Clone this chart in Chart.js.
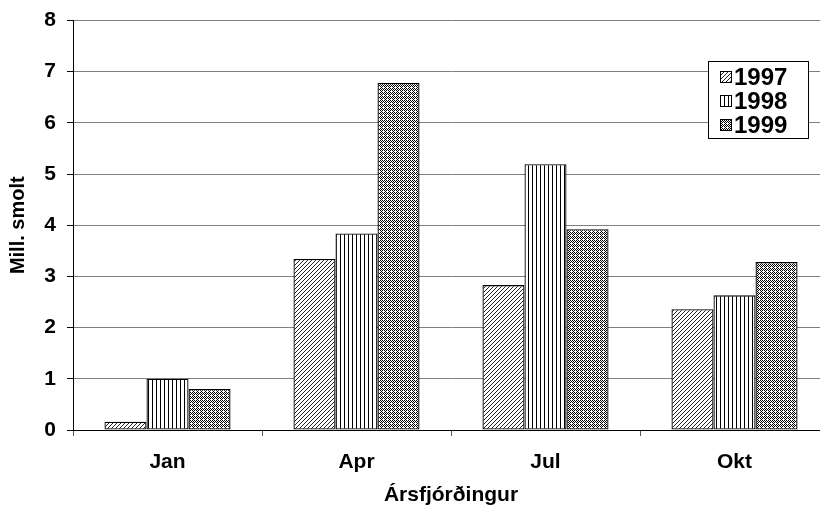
<!DOCTYPE html>
<html>
<head>
<meta charset="utf-8">
<script src="https://cdn.jsdelivr.net/npm/chart.js@4.4.1/dist/chart.umd.min.js"></script>
<style>
    html, body { margin: 0; padding: 0; background: #fff; overflow: hidden; }
    #wrap { width: 830px; height: 508px; position: relative; }
</style>
</head>
<body>
<div id="wrap"><canvas id="smoltChart" width="830" height="508"></canvas></div>
<script>
// Data
const quarters = ['Jan', 'Apr', 'Jul', 'Okt'];
const years = ['1997', '1998', '1999'];
const values1997 = [0.16, 3.34, 2.83, 2.36];
const values1998 = [1.0, 3.84, 5.19, 2.63];
const values1999 = [0.8, 6.78, 3.92, 3.28];
const yTicks = [0, 1, 2, 3, 4, 5, 6, 7, 8];

const FONT = "'Liberation Sans', Arial, sans-serif";

/**
 * Build fill patterns
 */
function makePattern(kind) {
    const c = document.createElement('canvas');
    const g = c.getContext('2d');
    c.width = 4; c.height = 4;
    g.fillStyle = '#fff';
    g.fillRect(0, 0, 4, 4);
    if (kind === 'diag') {
        g.fillStyle = '#222';
        for (let i = 0; i < 4; i++) g.fillRect(3 - i, i, 1, 1);
    } else if (kind === 'vert') {
        g.fillStyle = '#000';
        g.fillRect(0, 0, 1, 4);
    } else {
        g.fillStyle = '#000';
        g.fillRect(0, 0, 1, 1); g.fillRect(2, 0, 1, 1);
        g.fillRect(1, 1, 1, 1); g.fillRect(3, 1, 1, 1);
        g.fillRect(0, 2, 1, 1); g.fillRect(2, 2, 1, 1);
        g.fillRect(1, 3, 1, 1);
    }
    return c;
}

const ctx = document.getElementById('smoltChart');
const c2d = ctx.getContext('2d');
const patterns = [
    c2d.createPattern(makePattern('diag'), 'repeat'),
    c2d.createPattern(makePattern('vert'), 'repeat'),
    c2d.createPattern(makePattern('dots'), 'repeat')
];

// Legend box inside the plot
const boxLegend = {
    id: 'boxLegend',
    afterDatasetsDraw(chart) {
        const g = chart.ctx;
        const x = 708, y = 61, w = 100, h = 77;
        g.save();
        g.fillStyle = '#fff';
        g.fillRect(x, y, w, h);
        g.strokeStyle = '#000';
        g.lineWidth = 1;
        g.strokeRect(x + 0.5, y + 0.5, w, h);
        g.font = 'bold 24px ' + FONT;
        g.textBaseline = 'middle';
        years.forEach((yr, i) => {
            const cy = 77 + i * 24;
            g.fillStyle = patterns[i];
            g.fillRect(721, cy - 5, 10, 10);
            g.strokeStyle = '#000';
            g.strokeRect(720.5, cy - 5.5, 11, 11);
            g.fillStyle = '#000';
            g.fillText(yr, 734, cy + 1);
        });
        g.restore();
    }
};

const dataSets = [values1997, values1998, values1999].map((vals, i) => ({
    label: years[i],
    data: vals,
    backgroundColor: patterns[i],
    borderColor: '#000',
    borderWidth: 1.3,
    borderSkipped: false,
    categoryPercentage: 0.667,
    barPercentage: 1.0
}));

new Chart(ctx, {
    type: 'bar',
    data: { labels: quarters, datasets: dataSets },
    plugins: [boxLegend],
    options: {
        responsive: false,
        animation: false,
        layout: { padding: { top: 16, left: 0, right: 1, bottom: 0 } },
        plugins: {
            legend: { display: false },
            tooltip: { enabled: false }
        },
        scales: {
            x: {
                grid: {
                    offset: true,
                    drawOnChartArea: false,
                    drawTicks: true,
                    tickLength: 6,
                    tickColor: '#555'
                },
                border: { color: '#000', width: 1 },
                ticks: {
                    color: '#000',
                    padding: 14,
                    font: { family: FONT, size: 21, weight: 'bold' }
                },
                title: {
                    display: true,
                    text: 'Ársfjórðingur',
                    color: '#000',
                    padding: { top: 6, bottom: 0 },
                    font: { family: FONT, size: 21, weight: 'bold' }
                },
                afterFit: s => { s.height = 78; }
            },
            y: {
                min: 0,
                max: 8,
                afterBuildTicks: s => { s.ticks = yTicks.map(v => ({ value: v })); },
                grid: {
                    color: '#808080',
                    tickColor: '#000',
                    tickLength: 6,
                    lineWidth: 1
                },
                border: { color: '#000', width: 1 },
                ticks: {
                    color: '#000',
                    padding: 11,
                    font: { family: FONT, size: 21, weight: 'bold', lineHeight: 0.9 }
                },
                title: {
                    display: true,
                    text: 'Mill. smolt',
                    color: '#000',
                    padding: { top: 6, bottom: 4 },
                    font: { family: FONT, size: 20, weight: 'bold' }
                },
                afterFit: s => { s.width = 73; }
            }
        }
    }
});
</script>
</body>
</html>
